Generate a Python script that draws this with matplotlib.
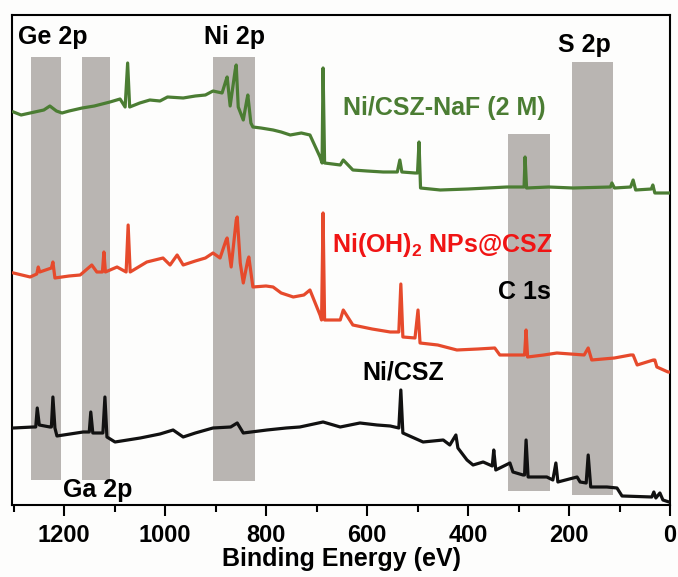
import numpy as np
import matplotlib
matplotlib.use('Agg')
import matplotlib.pyplot as plt
from matplotlib.ticker import MultipleLocator

plt.rcParams['font.family'] = ['Liberation Sans', 'DejaVu Sans']
plt.rcParams['font.weight'] = 'bold'
plt.rcParams['mathtext.fontset'] = 'custom'
plt.rcParams['mathtext.bf'] = 'Liberation Sans:bold'
plt.rcParams['mathtext.rm'] = 'Liberation Sans:bold'

# survey spectra, binding energy (eV) vs intensity (a.u.)
e_naf = [1300, 1285, 1267, 1240, 1228, 1215, 1204, 1190, 1164, 1140, 1109, 1089, 1079, 1074,
         1070, 1050, 1030, 1010, 995, 964, 940, 920, 905, 887, 879, 877, 871, 861, 859,
         855, 845, 838, 836, 830, 826, 810, 786, 770, 752, 730, 713, 693, 689, 687, 684,
         653, 647, 628, 600, 568, 540, 535, 531, 505, 500, 497, 494, 455, 400, 323, 289,
         287, 284, 240, 192, 118, 115, 110, 78, 73, 68, 37, 34, 30, 4, 0]
i_naf = [393, 390, 392, 395, 399, 394, 392, 394, 397, 399, 403, 406, 398, 442,
         398, 402, 405, 404, 408, 407, 409, 410, 414, 412, 425, 428, 399, 435, 440,
         398, 385, 405, 410, 382, 378, 377, 375, 373, 370, 372, 370, 348, 342, 437, 342,
         340, 345, 335, 334, 333, 333, 345, 333, 332, 332, 363, 317, 315, 316, 318, 318,
         348, 317, 318, 317, 318, 322, 317, 318, 325, 315, 316, 320, 312, 312, 312]

e_oh = [1300, 1267, 1254, 1251, 1248, 1225, 1222, 1218, 1190, 1168, 1145, 1135, 1124, 1121,
        1118, 1095, 1077, 1073, 1069, 1036, 1004, 990, 976, 964, 940, 920, 905, 891, 879,
        877, 869, 859, 857, 851, 845, 836, 834, 826, 800, 786, 770, 746, 725, 713, 693,
        690, 687, 684, 653, 647, 628, 590, 554, 537, 533, 529, 505, 499, 495, 460, 422,
        380, 347, 337, 291, 288, 285, 282, 250, 224, 170, 162, 155, 110, 78, 73, 65, 33,
        30, 26, 4, 0]
i_oh = [232, 228, 231, 238, 233, 237, 243, 227, 229, 230, 240, 233, 233, 253,
        233, 238, 233, 280, 233, 243, 247, 240, 250, 240, 244, 247, 252, 247, 265,
        267, 238, 285, 288, 242, 222, 245, 248, 218, 219, 218, 212, 208, 210, 215, 190,
        185, 292, 185, 185, 195, 180, 176, 173, 173, 221, 168, 167, 195, 162, 160, 155,
        156, 157, 150, 150, 150, 175, 148, 150, 152, 150, 157, 145, 147, 150, 150, 140, 145,
        145, 138, 133, 133]

e_csz = [1300, 1261, 1256, 1253, 1249, 1228, 1225, 1222, 1218, 1214, 1162, 1150, 1147, 1143,
         1123, 1119, 1115, 1099, 1049, 1010, 984, 964, 940, 905, 870, 857, 845, 798, 760,
         733, 687, 653, 614, 580, 554, 537, 533, 529, 489, 449, 436, 424, 420, 402, 390,
         370, 352, 349, 345, 317, 311, 291, 288, 285, 281, 244, 232, 226, 222, 184, 178,
         166, 162, 157, 125, 105, 95, 36, 32, 28, 20, 14, 2, 0]
i_csz = [77, 78, 78, 97, 80, 78, 78, 108, 77, 69, 73, 73, 93, 72,
         72, 108, 68, 63, 67, 71, 75, 68, 72, 77, 78, 82, 72, 75, 77,
         78, 83, 78, 82, 80, 79, 77, 115, 72, 63, 65, 60, 70, 57, 45, 40,
         43, 39, 55, 35, 42, 33, 30, 30, 65, 28, 28, 25, 42, 23, 28, 23,
         22, 50, 18, 18, 17, 9, 8, 13, 7, 12, 5, 3, 3]

# shaded element regions: high / low binding energy edge, bottom, top
band_hi = [1265, 1164, 905, 321, 194]
band_lo = [1206, 1109, 822, 238, 113]
band_bot = [25, 25, 24, 14, 10]
band_top = [448, 448, 448, 371, 443]

fig = plt.figure(figsize=(6.78, 5.77), dpi=100, facecolor='#fdfdfc')
ax = fig.add_axes([0.0177, 0.1248, 0.9705, 0.8492])
ax.set_facecolor('#fdfdfc')

for hi, lo, b, t in zip(band_hi, band_lo, band_bot, band_top):
    ax.bar((hi + lo) / 2, t - b, width=hi - lo, bottom=b, color='#b9b5b2', zorder=1)

ax.plot(e_naf, i_naf, color='#4b7d33', lw=2.3, zorder=3)
ax.plot(e_oh, i_oh, color='#e64a2c', lw=2.3, zorder=3)
ax.plot(e_csz, i_csz, color='#111111', lw=2.3, zorder=3)

fs = 17
fa = 18
ax.text(1291, 468, 'Ge 2p', fontsize=fa, fontweight='bold', va='center', ha='left')
ax.text(923, 468, 'Ni 2p', fontsize=fa, fontweight='bold', va='center', ha='left')
ax.text(222, 460, 'S 2p', fontsize=fa, fontweight='bold', va='center', ha='left')
ax.text(1202, 15, 'Ga 2p', fontsize=fa, fontweight='bold', va='center', ha='left')
ax.text(341, 213, 'C 1s', fontsize=fa, fontweight='bold', va='center', ha='left')
ax.text(647, 397, 'Ni/CSZ-NaF (2 M)', fontsize=fa, fontweight='bold', color='#4b7d33',
        va='center', ha='left')
ax.text(669, 260, r'Ni(OH)$_\mathbf{2}$ NPs@CSZ', fontsize=fa, fontweight='bold',
        color='#f01414', va='center', ha='left')
ax.text(610, 132, 'Ni/CSZ', fontsize=fa, fontweight='bold', va='center', ha='left')

ax.set_xlim(1303, 0)
ax.set_ylim(0, 490)
ax.set_yticks([])
ax.xaxis.set_major_locator(MultipleLocator(200))
ax.xaxis.set_minor_locator(MultipleLocator(100))
ax.tick_params(axis='x', which='major', direction='out', length=8, width=1.5,
               labelsize=fs, pad=6)
ax.tick_params(axis='x', which='minor', direction='out', length=5, width=1.5)
for lab in ax.get_xticklabels():
    lab.set_fontweight('bold')
for s in ax.spines.values():
    s.set_linewidth(1.5)
ax.set_xlabel('Binding Energy (eV)', fontsize=fa, fontweight='bold', labelpad=0)

fig.savefig('out.png', dpi=100, facecolor=fig.get_facecolor())
